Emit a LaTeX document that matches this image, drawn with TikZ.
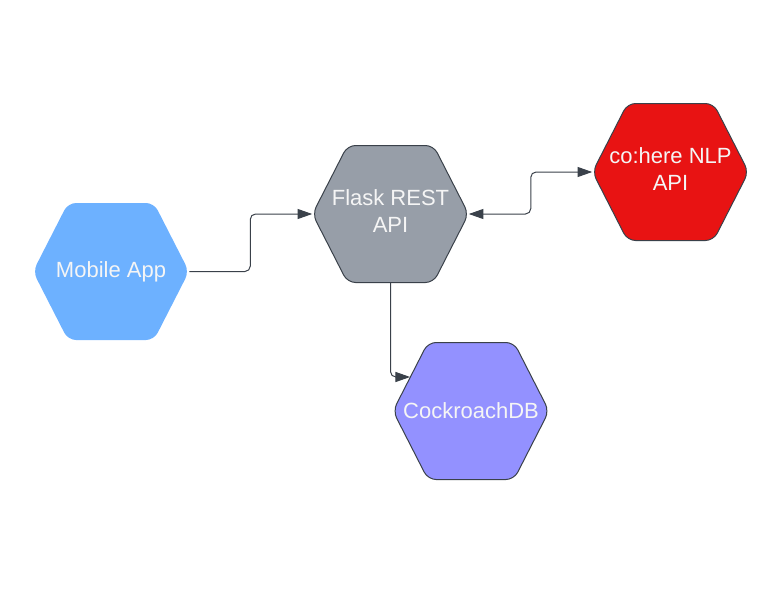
\documentclass[tikz,border=0pt]{standalone}
\usepackage{fontspec}
\setmainfont{Liberation Sans}
\usetikzlibrary{arrows.meta,calc}
\definecolor{mobfill}{HTML}{6DB1FF}
\definecolor{flaskfill}{HTML}{979EA8}
\definecolor{cohfill}{HTML}{E81313}
\definecolor{cdbfill}{HTML}{9391FF}
\definecolor{edgecol}{HTML}{3A414A}
\definecolor{txtcol}{HTML}{F5F5F5}
\newcommand{\hexnode}[7]{%
  \begin{scope}[shift={(#2,#3)}]
    \path[fill=#4,#5,rounded corners=6] (0,-68.5) -- (43,-68.5) -- (78,0) -- (43,68.5) -- (-43,68.5) -- (-78,0) -- (-43,-68.5) -- cycle;
  \end{scope}
  \node[hexlabel] (#1) at (#2,#3) {};
  \node[hextext,#7] (#1-text) at (#1.center) {#6};}
\tikzset{
  hexlabel/.style={minimum width=117pt, minimum height=102.75pt, inner sep=0pt},
  hextext/.style={inner sep=0pt, align=center,
    text=txtcol, font=\fontsize{16.5}{20.25}\selectfont},
  twoline/.style={yshift=2.25pt},
  hexborder/.style={draw=edgecol, line width=0.75pt},
  conn/.style={draw=edgecol, line width=0.75pt, rounded corners=4,
    -{Triangle[length=11pt,width=7.5pt]}},
  connboth/.style={conn, {Triangle[length=11pt,width=7.5pt]}-{Triangle[length=11pt,width=7.5pt]}}
}
\begin{document}
\begin{tikzpicture}[x=0.75pt,y=-0.75pt]
\useasboundingbox (0,0) rectangle (779,600);
\hexnode{mob}{111}{271.5}{mobfill}{draw=none}{Mobile App}{}
\hexnode{flask}{390.5}{214}{flaskfill}{hexborder}{Flask REST\\API}{twoline}
\hexnode{coh}{670.5}{172}{cohfill}{hexborder}{co:here NLP\\API}{twoline}
\hexnode{cdb}{471}{411}{cdbfill}{hexborder}{CockroachDB}{}
\coordinate (cdbin) at ($(cdb.west)+(17.4,-34)$);
\draw[conn] (mob.east) -- ++(61,0) |- (flask.west);
\draw[connboth] (flask.east) -- ++(62,0) |- (coh.west);
\draw[conn] (flask.south) |- (cdbin);
\end{tikzpicture}
\end{document}
